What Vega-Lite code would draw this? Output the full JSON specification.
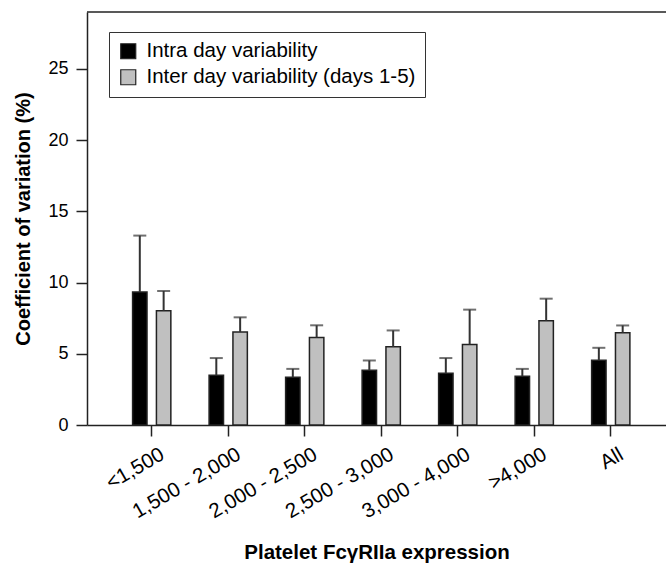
{
  "$schema": "https://vega.github.io/schema/vega-lite/v6.json",
  "autosize": "none",
  "width": 579,
  "height": 413,
  "padding": {"left": 87, "top": 12, "right": 0, "bottom": 141},
  "background": "white",
  "config": {
    "font": "Liberation Sans",
    "view": {"stroke": null},
    "axis": {"grid": false, "domainColor": "#222", "domainWidth": 1.5, "tickColor": "#222", "tickWidth": 1.5, "labelColor": "#000", "titleColor": "#000"}
  },
  "datasets": {
    "bars": [
      {"cat": "<1,500", "series": "Intra day variability", "value": 9.34, "upper": 13.3},
      {"cat": "<1,500", "series": "Inter day variability (days 1-5)", "value": 8.03, "upper": 9.41},
      {"cat": "1,500 - 2,000", "series": "Intra day variability", "value": 3.5, "upper": 4.7},
      {"cat": "1,500 - 2,000", "series": "Inter day variability (days 1-5)", "value": 6.53, "upper": 7.56},
      {"cat": "2,000 - 2,500", "series": "Intra day variability", "value": 3.36, "upper": 3.94},
      {"cat": "2,000 - 2,500", "series": "Inter day variability (days 1-5)", "value": 6.15, "upper": 7.0},
      {"cat": "2,500 - 3,000", "series": "Intra day variability", "value": 3.85, "upper": 4.53},
      {"cat": "2,500 - 3,000", "series": "Inter day variability (days 1-5)", "value": 5.49, "upper": 6.64},
      {"cat": "3,000 - 4,000", "series": "Intra day variability", "value": 3.64, "upper": 4.7},
      {"cat": "3,000 - 4,000", "series": "Inter day variability (days 1-5)", "value": 5.66, "upper": 8.1},
      {"cat": ">4,000", "series": "Intra day variability", "value": 3.43, "upper": 3.94},
      {"cat": ">4,000", "series": "Inter day variability (days 1-5)", "value": 7.32, "upper": 8.87},
      {"cat": "All", "series": "Intra day variability", "value": 4.55, "upper": 5.42},
      {"cat": "All", "series": "Inter day variability (days 1-5)", "value": 6.48, "upper": 6.99}
    ],
    "frame": [{"top": 29}]
  },
  "layer": [
    {
      "data": {"name": "bars"},
      "mark": {"type": "bar", "stroke": "#222", "strokeWidth": 1.5},
      "encoding": {
        "x": {
          "field": "cat", "type": "nominal",
          "sort": ["<1,500", "1,500 - 2,000", "2,000 - 2,500", "2,500 - 3,000", "3,000 - 4,000", ">4,000", "All"],
          "scale": {"paddingInner": 0.5, "paddingOuter": 0.534, "align": 0.558},
          "title": "Platelet FcγRIIa expression",
          "axis": {"labelAngle": -30, "labelAlign": "right", "labelBaseline": "top", "labelFontSize": 20.5, "labelPadding": 8, "labelOffset": 6, "tickSize": 11, "titleFontSize": 20.5, "titleFontWeight": "bold", "titlePadding": 20, "labelLimit": 300}
        },
        "xOffset": {"field": "series", "type": "nominal", "sort": ["Intra day variability", "Inter day variability (days 1-5)"], "scale": {"paddingInner": 0.395, "paddingOuter": 0}},
        "y": {
          "field": "value", "type": "quantitative",
          "scale": {"domain": [0, 29], "nice": false},
          "title": "Coefficient of variation (%)",
          "axis": {"values": [0, 5, 10, 15, 20, 25], "tickSize": 11, "labelFontSize": 18, "labelPadding": 8, "titleFontSize": 20, "titleFontWeight": "bold", "titlePadding": 14}
        },
        "fill": {
          "field": "series", "type": "nominal",
          "scale": {"domain": ["Intra day variability", "Inter day variability (days 1-5)"], "range": ["#000000", "#c0c0c0"]},
          "legend": {"orient": "none", "legendX": 22, "legendY": 20, "title": null, "strokeColor": "#333", "fillColor": "white", "padding": 9, "symbolType": "square", "symbolSize": 225, "symbolStrokeColor": "#222", "symbolStrokeWidth": 1.2, "labelFontSize": 20.5, "labelLimit": 400, "labelOffset": 8, "rowPadding": 5, "labelColor": "#000"}
        }
      }
    },
    {
      "data": {"name": "bars"},
      "mark": {"type": "rule", "color": "#333", "strokeWidth": 2},
      "encoding": {
        "x": {"field": "cat", "type": "nominal", "sort": ["<1,500", "1,500 - 2,000", "2,000 - 2,500", "2,500 - 3,000", "3,000 - 4,000", ">4,000", "All"]},
        "xOffset": {"field": "series", "type": "nominal", "sort": ["Intra day variability", "Inter day variability (days 1-5)"]},
        "y": {"field": "value", "type": "quantitative"},
        "y2": {"field": "upper"}
      }
    },
    {
      "data": {"name": "bars"},
      "mark": {"type": "tick", "color": "#333", "thickness": 2, "size": 13},
      "encoding": {
        "x": {"field": "cat", "type": "nominal", "sort": ["<1,500", "1,500 - 2,000", "2,000 - 2,500", "2,500 - 3,000", "3,000 - 4,000", ">4,000", "All"]},
        "xOffset": {"field": "series", "type": "nominal", "sort": ["Intra day variability", "Inter day variability (days 1-5)"]},
        "y": {"field": "upper", "type": "quantitative"}
      }
    },
    {
      "data": {"name": "frame"},
      "mark": {"type": "rule", "color": "#222", "strokeWidth": 1.5},
      "encoding": {"y": {"field": "top", "type": "quantitative"}}
    }
  ]
}
